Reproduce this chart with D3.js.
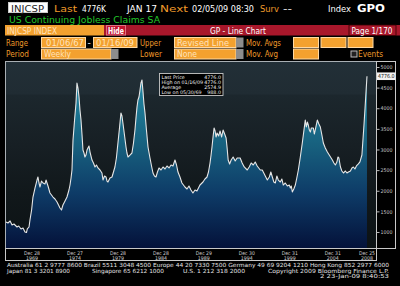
<!DOCTYPE html>
<html>
<head>
<meta charset="utf-8">
<script src="https://cdn.jsdelivr.net/npm/d3@7"></script>
<style>
html, body { margin: 0; padding: 0; background: #000; }
svg { display: block; }
text { font-family: "DejaVu Sans", sans-serif; }
</style>
</head>
<body>
<svg id="chart" width="400" height="286"></svg>
<script>
// values (decimal year, thousands)
const years = [
  1967.02, 1967.25, 1967.50, 1967.72, 1967.95, 1968.30, 1968.50, 1968.77, 1969.00, 1969.23,
  1969.41, 1969.50, 1969.70, 1969.81, 1970.00, 1970.16, 1970.40, 1970.63, 1970.74, 1970.86,
  1970.98, 1971.15, 1971.33, 1971.56, 1971.68, 1971.91, 1972.14, 1972.49, 1972.72, 1972.96,
  1973.19, 1973.30, 1973.48, 1973.65, 1973.89, 1974.12, 1974.35, 1974.47, 1974.59, 1974.70,
  1974.82, 1975.00, 1975.17, 1975.28, 1975.40, 1975.52, 1975.63, 1975.75, 1975.87, 1975.98,
  1976.10, 1976.21, 1976.33, 1976.45, 1976.56, 1976.68, 1976.80, 1977.03, 1977.20, 1977.38,
  1977.55, 1977.73, 1977.96, 1978.19, 1978.31, 1978.49, 1978.66, 1978.78, 1978.89, 1979.12,
  1979.36, 1979.53, 1979.70, 1979.87, 1980.05, 1980.23, 1980.40, 1980.52, 1980.63, 1980.81,
  1980.99, 1981.10, 1981.22, 1981.45, 1981.68, 1981.86, 1982.03, 1982.15, 1982.27, 1982.38,
  1982.50, 1982.62, 1982.73, 1982.85, 1982.97, 1983.08, 1983.20, 1983.37, 1983.55, 1983.78,
  1983.96, 1984.13, 1984.30, 1984.48, 1984.65, 1984.83, 1985.06, 1985.30, 1985.53, 1985.76,
  1986.00, 1986.23, 1986.46, 1986.69, 1986.87, 1987.04, 1987.27, 1987.50, 1987.85, 1988.09,
  1988.32, 1988.55, 1988.78, 1989.02, 1989.25, 1989.60, 1989.95, 1990.18, 1990.42, 1990.59,
  1990.77, 1990.89, 1991.00, 1991.12, 1991.24, 1991.36, 1991.47, 1991.59, 1991.77, 1991.94,
  1992.12, 1992.29, 1992.47, 1992.64, 1992.76, 1992.88, 1993.05, 1993.23, 1993.46, 1993.70,
  1993.93, 1994.28, 1994.51, 1994.75, 1995.10, 1995.33, 1995.56, 1995.80, 1996.03, 1996.26,
  1996.62, 1996.85, 1996.97, 1997.20, 1997.44, 1997.67, 1997.85, 1998.02, 1998.20, 1998.37,
  1998.55, 1998.72, 1998.95, 1999.13, 1999.30, 1999.53, 1999.77, 2000.00, 2000.12, 2000.23,
  2000.35, 2000.52, 2000.70, 2000.87, 2001.05, 2001.28, 2001.51, 2001.69, 2001.86, 2001.98,
  2002.10, 2002.21, 2002.33, 2002.45, 2002.56, 2002.80, 2002.91, 2003.09, 2003.26, 2003.44,
  2003.61, 2003.79, 2003.96, 2004.19, 2004.43, 2004.72, 2005.01, 2005.19, 2005.36, 2005.54,
  2005.66, 2005.77, 2005.89, 2005.95, 2006.12, 2006.30, 2006.53, 2006.71, 2006.88, 2007.11,
  2007.29, 2007.46, 2007.64, 2007.81, 2008.04, 2008.22, 2008.45, 2008.57, 2008.69, 2008.80,
  2008.92, 2009.04
];
const claims = [
  1242, 1218, 1267, 1170, 1194, 1121, 1145, 1073, 1097, 1000,
  988, 1073, 1121, 1291, 1533, 1848, 2067, 2260, 2333, 2188,
  2091, 2236, 2188, 2164, 2260, 2115, 1945, 1848, 1800, 1727,
  1630, 1582, 1533, 1654, 1751, 1848, 2018, 2139, 2309, 2503,
  3230, 3715, 4127, 4612, 4491, 4273, 3957, 3715, 3351, 2988,
  2915, 2818, 2866, 2988, 3036, 3085, 2939, 2745, 2673, 2576,
  2624, 2552, 2503, 2430, 2260, 2357, 2333, 2236, 2212, 2309,
  2333, 2454, 2576, 2794, 3157, 3521, 3885, 3812, 3642, 3351,
  3060, 2915, 2818, 2866, 2915, 3157, 3472, 3763, 4030, 4200,
  4273, 4442, 4612, 4685, 4394, 4103, 3885, 3472, 3060, 2794,
  2600, 2430, 2357, 2333, 2454, 2552, 2503, 2576, 2527, 2600,
  2552, 2624, 2600, 2745, 2624, 2454, 2333, 2188, 2091, 2042,
  2115, 2018, 1945, 2018, 1994, 2139, 2212, 2285, 2333, 2454,
  2673, 2866, 3060, 3303, 3521, 3448, 3303, 3400, 3327, 3448,
  3303, 3472, 3375, 3278, 3036, 2745, 2648, 2745, 2818, 2721,
  2794, 2794, 2673, 2576, 2503, 2576, 2673, 2624, 2697, 2600,
  2503, 2503, 2454, 2357, 2260, 2333, 2454, 2333, 2212, 2188,
  2357, 2260, 2212, 2285, 2139, 2188, 2115, 2139, 2067, 2115,
  1970, 2042, 2139, 2309, 2503, 2818, 3157, 3448, 3715, 3545,
  3666, 3594, 3472, 3424, 3521, 3521, 3375, 3545, 3715, 3618,
  3545, 3351, 3157, 3036, 2939, 2842, 2745, 2673, 2624, 2697,
  2818, 2794, 2648, 2576, 2479, 2430, 2479, 2430, 2454, 2479,
  2552, 2576, 2527, 2600, 2650, 2700, 2866, 3230, 3594, 3957,
  4370, 4776
];
const tickDates = ["1969-12-28", "1974-12-27", "1979-12-28", "1984-12-28", "1989-12-29",
                   "1994-12-30", "1999-12-31", "2004-12-31", "2008-12-25"];
const yTicks = [1000, 1500, 2000, 2500, 3000, 3500, 4000, 4500, 5000];
const lastValue = 4776.0;
const statLabels = ["Last Price", "High on 01/16/09", "Average", "Low on 05/30/69"];
const statValues = ["4776.0", "4776.0", "2574.9", "988.0"];

const W = 400, H = 286;
const plot = { left: 6, right: 376, top: 62, bottom: 248 };
const svg = d3.select("#chart");
const defs = svg.append("defs");

const ORANGE = "#f3a12f", OTEXT = "#ee9a2a", GREEN = "#22c52a";

function txt(x, y, s, fill, size, len, opts) {
  opts = opts || {};
  const t = svg.append("text")
    .attr("x", x).attr("y", y).text(s)
    .attr("fill", fill).attr("font-size", size)
    .attr("font-weight", opts.bold ? "bold" : "normal")
    .attr("text-anchor", opts.anchor || "start");
  if (len) t.attr("textLength", len).attr("lengthAdjust", "spacingAndGlyphs");
  return t;
}
function box(x, y, w, h, fill, stroke) {
  return svg.append("rect").attr("x", x).attr("y", y).attr("width", w).attr("height", h)
    .attr("fill", fill).attr("stroke", stroke || "none").attr("stroke-width", 1);
}

svg.append("rect").attr("width", W).attr("height", H).attr("fill", "#000");

// ---- header row 1
box(8.5, 2.5, 39, 10, "#fff", "#ccc");
txt(11, 11.5, "INJCSP", "#222", 9, 33);
txt(54, 11.5, "Last", OTEXT, 9.5, 23);
txt(82, 11.5, "4776K", "#fff", 9.5, 24);
txt(127, 11.5, "JAN 17", "#fff", 9.5, 30);
txt(160, 11.5, "Next", OTEXT, 9.5, 28);
txt(192, 11.5, "02/05/09 08:30", "#fff", 8.5, 62);
txt(260, 11.5, "Surv", OTEXT, 9.5, 19);
txt(283, 11.5, "--", "#fff", 9.5, 9);
txt(328, 11.5, "Index", "#fff", 9.5, 23);
txt(357, 12, "GPO", "#fff", 11, 28, { bold: true });

// row 2
txt(9, 22.5, "US Continuing Jobless Claims SA", GREEN, 9.5, 151);

// row 3
box(5, 25, 99, 10.5, ORANGE);
txt(7, 33.5, "INJCSP INDEX", "#ffe3bd", 8.5, 50);
box(104, 25, 296, 10.5, "#a8172b");
box(106.5, 25.5, 19, 9.5, "#c2142e", "#e07080");
txt(108, 33.5, "Hide", "#fff", 8.5, 16, { bold: true });
txt(210, 33.5, "GP - Line Chart", "#fff", 9, 56);
box(349, 25, 47, 10.5, "#a8172b").attr("stroke", "#300").attr("stroke-width", 0.8);
txt(351.5, 33.5, "Page 1/170", "#fff", 8.5, 41);

// row 4
txt(6, 45.5, "Range", OTEXT, 9, 22);
box(41.5, 37.5, 44, 10, ORANGE, "#ffd9a3");
txt(46, 45.5, "01/06/67", "#ffe3bd", 8.5, 38);
txt(87.5, 45.5, "-", "#fff", 9);
box(93.5, 37.5, 43.5, 10, ORANGE, "#ffd9a3");
txt(96, 45.5, "01/16/09", "#ffe3bd", 8.5, 38);
txt(140, 45.5, "Upper", OTEXT, 9, 21);
box(174.5, 37.5, 61.5, 10, ORANGE, "#ffd9a3");
box(236, 37.5, 7.5, 10, "#8d8d8d");
txt(177, 45.5, "Revised Line", "#ffe3bd", 8.5, 52);
txt(246, 45.5, "Mov. Avgs", OTEXT, 9, 35);
box(293.5, 37.5, 25, 10, ORANGE, "#ffd9a3");
box(321, 37.5, 25, 10, ORANGE, "#ffd9a3");
box(348, 37.5, 25, 10, ORANGE, "#ffd9a3");

// row 5
txt(6, 57, "Period", OTEXT, 9, 23);
box(41.5, 49, 69.5, 10, ORANGE, "#ffd9a3");
box(111, 49, 7.5, 10, "#8d8d8d");
txt(44, 57, "Weekly", "#ffe3bd", 8.5, 27);
txt(140, 57, "Lower", OTEXT, 9, 22);
box(174.5, 49, 61.5, 10, ORANGE, "#ffd9a3");
box(236, 49, 7.5, 10, "#8d8d8d");
txt(177, 57, "None", "#ffe3bd", 8.5, 20);
txt(246, 57, "Mov. Avg", OTEXT, 9, 32);
box(293.5, 49, 25, 10, ORANGE, "#ffd9a3");
box(351, 51, 6, 6, "#222", "#bbb");
txt(358, 57, "Events", OTEXT, 9, 25);

// ---- chart panel
const x = d3.scaleLinear().domain([1967.02, 2010.09]).range([plot.left, plot.right]);
const y = d3.scaleLinear().domain([612, 5121]).range([plot.bottom, plot.top]);

const bg = defs.append("linearGradient").attr("id", "bg")
  .attr("gradientUnits", "userSpaceOnUse").attr("x1", 0).attr("x2", 0)
  .attr("y1", plot.top).attr("y2", plot.bottom);
[[0, "#222f37"], [0.17, "#202c33"], [0.18, "#1c272d"], [0.45, "#171f24"], [0.7, "#11181b"], [1, "#0c1214"]]
  .forEach(s => bg.append("stop").attr("offset", s[0]).attr("stop-color", s[1]));

const fillG = defs.append("linearGradient").attr("id", "fillG")
  .attr("gradientUnits", "userSpaceOnUse").attr("x1", 0).attr("x2", 0)
  .attr("y1", plot.top).attr("y2", plot.bottom);
[[0, "#2a8fac"], [0.2, "#1e7c98"], [0.45, "#17607e"], [0.7, "#0e3c68"], [1, "#04123a"]]
  .forEach(s => fillG.append("stop").attr("offset", s[0]).attr("stop-color", s[1]));

svg.append("rect").attr("x", plot.left).attr("y", plot.top)
  .attr("width", plot.right - plot.left).attr("height", plot.bottom - plot.top)
  .attr("fill", "url(#bg)");

const pts = years.map((yr, i) => [yr, claims[i]]);
const area = d3.area().x(d => x(d[0])).y0(plot.bottom).y1(d => y(d[1]));
const line = d3.line().x(d => x(d[0])).y(d => y(d[1]));

svg.append("path").datum(pts).attr("d", area).attr("fill", "url(#fillG)");
svg.append("path").datum(pts).attr("d", line)
  .attr("fill", "none").attr("stroke", "#e6e6e6").attr("stroke-width", 1.1)
  .attr("stroke-linejoin", "round");

// frame
svg.append("rect").attr("x", plot.left - 0.5).attr("y", plot.top - 0.5)
  .attr("width", plot.right - plot.left + 1).attr("height", plot.bottom - plot.top + 1)
  .attr("fill", "none").attr("stroke", "#a9afb4").attr("stroke-width", 1);

// ---- right value axis
svg.append("rect").attr("x", plot.right + 0.5).attr("y", plot.top - 0.5)
  .attr("width", 19).attr("height", plot.bottom - plot.top + 1)
  .attr("fill", "#000").attr("stroke", "#c8c8c8").attr("stroke-width", 1);

const yAxis = d3.axisRight(y).tickValues(yTicks).tickSize(3).tickPadding(1)
  .tickFormat(d3.format("d"));
const gy = svg.append("g").attr("transform", `translate(${plot.right + 0.5},0)`).call(yAxis);
gy.select(".domain").remove();
gy.selectAll(".tick line").attr("stroke", "#bbb");
gy.selectAll(".tick text").attr("fill", "#c8c8c8").attr("font-size", 5.2)
  .attr("font-family", "DejaVu Sans").attr("textLength", 12).attr("lengthAdjust", "spacingAndGlyphs");

const lastG = svg.append("g").attr("transform", `translate(${plot.right + 1},${y(lastValue)})`);
lastG.append("rect").attr("x", 0).attr("y", -3.8).attr("width", 18.5).attr("height", 7.6).attr("fill", "#f2f2f2");
lastG.append("text").attr("x", 1).attr("y", 2).text(d3.format(".1f")(lastValue))
  .attr("fill", "#111").attr("font-size", 5.4).attr("textLength", 16.5).attr("lengthAdjust", "spacingAndGlyphs");

// ---- bottom date axis
svg.append("rect").attr("x", plot.left - 0.5).attr("y", plot.bottom + 0.5)
  .attr("width", plot.right - plot.left + 1).attr("height", 12)
  .attr("fill", "#000").attr("stroke", "#c8c8c8").attr("stroke-width", 1);

const parseD = d3.timeParse("%Y-%m-%d");
const toYear = d => {
  const dt = parseD(d);
  const y0 = new Date(dt.getFullYear(), 0, 1);
  return dt.getFullYear() + (dt - y0) / (365.25 * 864e5);
};
const fmtDay = d3.timeFormat("%b %d"), fmtYr = d3.timeFormat("%Y");
const xAxis = d3.axisBottom(x).tickValues(tickDates.map(toYear)).tickSize(0).tickFormat("");
const gx = svg.append("g").attr("transform", `translate(0,${plot.bottom + 1})`).call(xAxis);
gx.select(".domain").remove();
gx.selectAll(".tick").each(function (d, i) {
  const g = d3.select(this);
  const dt = parseD(tickDates[i]);
  g.append("text").attr("y", 6).attr("text-anchor", "middle").text(fmtDay(dt))
    .attr("fill", "#d0d0d0").attr("font-size", 5.2).attr("textLength", 16).attr("lengthAdjust", "spacingAndGlyphs");
  g.append("text").attr("y", 11).attr("text-anchor", "middle").text(fmtYr(dt))
    .attr("fill", "#d0d0d0").attr("font-size", 5.2).attr("textLength", 12).attr("lengthAdjust", "spacingAndGlyphs");
});

// ---- stats box
const sb = svg.append("g").attr("transform", "translate(159.5,73.5)");
sb.append("rect").attr("width", 63.5).attr("height", 22).attr("fill", "#000")
  .attr("stroke", "#c8c8c8").attr("stroke-width", 0.9);
statLabels.forEach((s, i) => {
  sb.append("text").attr("x", 2).attr("y", 5.6 + i * 5).text(s)
    .attr("fill", "#f0f0f0").attr("font-size", 4.8);
  sb.append("text").attr("x", 61.5).attr("y", 5.6 + i * 5).text(statValues[i])
    .attr("text-anchor", "end").attr("fill", "#f0f0f0").attr("font-size", 4.8);
});

// ---- footer
const FT = "#e4e4e4";
txt(7, 267, "Australia 61 2 9777 8600 Brazil 5511 3048 4500 Europe 44 20 7330 7500 Germany 49 69 9204 1210 Hong Kong 852 2977 6000", FT, 5.6, 382);
txt(7, 272.5, "Japan 81 3 3201 8900", FT, 5.6, 63);
txt(92, 272.5, "Singapore 65 6212 1000", FT, 5.6, 72);
txt(183, 272.5, "U.S. 1 212 318 2000", FT, 5.6, 62);
txt(268, 272.5, "Copyright 2009 Bloomberg Finance L.P.", FT, 5.6, 121);
txt(320, 278, "2 23-Jan-09  8:40:53", FT, 5.6, 69);
</script>
</body>
</html>
